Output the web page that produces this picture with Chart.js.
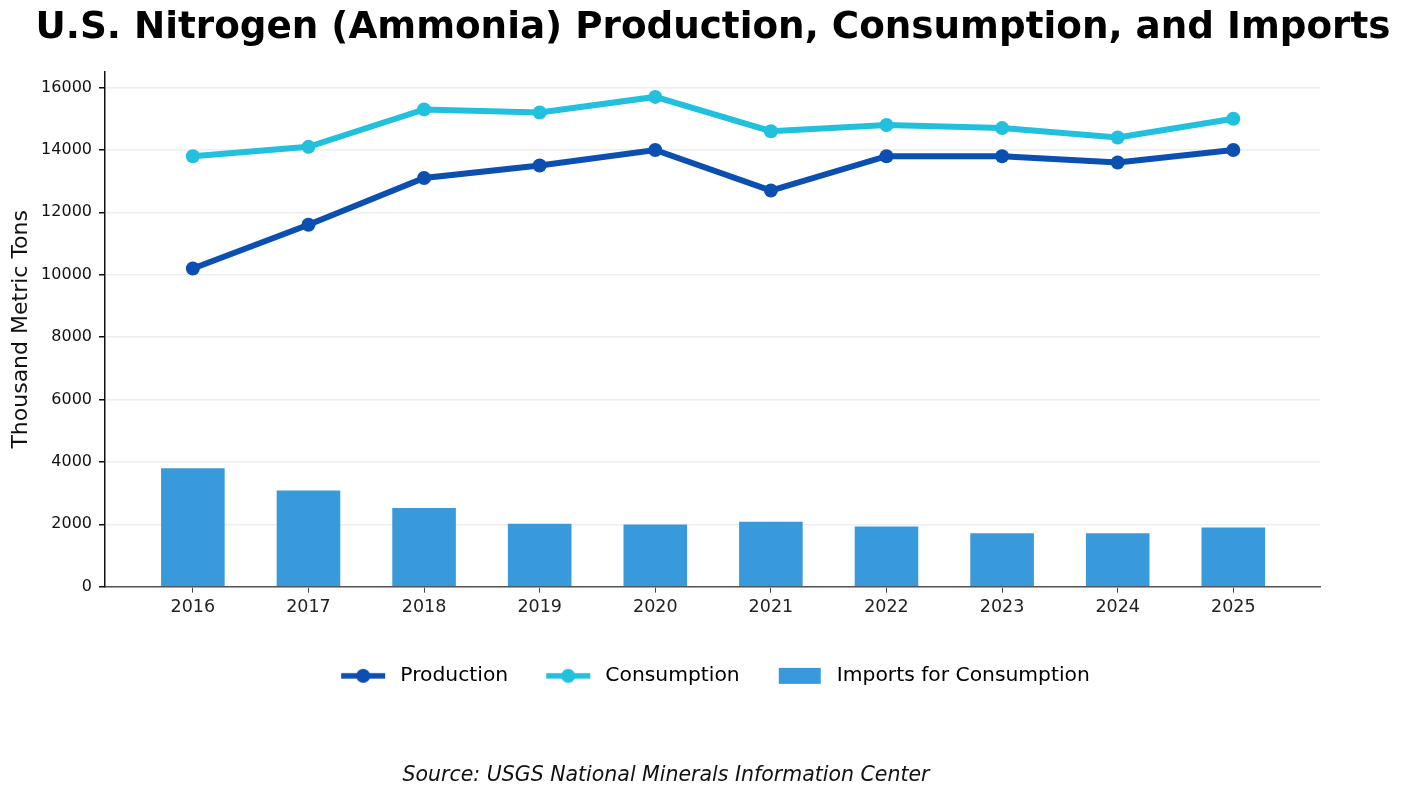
<!DOCTYPE html>
<html>
<head>
<meta charset="utf-8">
<script src="https://cdn.jsdelivr.net/npm/chart.js@4.4.1/dist/chart.umd.min.js"></script>
<style>
  html, body { margin: 0; background: #fff; }
</style>
</head>
<body>
<canvas id="chart" width="1408" height="800"></canvas>
<script>
'use strict';
// values (thousand metric tons)
const YEARS = [2016, 2017, 2018, 2019, 2020, 2021, 2022, 2023, 2024, 2025];
const PRODUCTION = [10200, 11600, 13100, 13500, 14000, 12700, 13800, 13800, 13600, 14000];
const CONSUMPTION = [13800, 14100, 15300, 15200, 15700, 14600, 14800, 14700, 14400, 15000];
const IMPORTS = [3800, 3080, 2520, 2020, 1990, 2080, 1930, 1710, 1710, 1900];
const Y_TICKS = [0, 2000, 4000, 6000, 8000, 10000, 12000, 14000, 16000];
const SOURCE = 'Source: USGS National Minerals Information Center';

const COLORS = { production: '#0b4fb1', consumption: '#21c1de', imports: '#3899db' };
const FONT = "'DejaVu Sans', sans-serif";

const pts = (arr) => arr.map((v, i) => ({ x: YEARS[i], y: v }));

// small canvases used as legend glyphs (line + dot, or a plain box)
function lineGlyph(color) {
  const c = document.createElement('canvas'); c.width = 54; c.height = 18;
  const g = c.getContext('2d');
  g.strokeStyle = color; g.lineWidth = 5.5;
  g.beginPath(); g.moveTo(5, 9); g.lineTo(49, 9); g.stroke();
  g.fillStyle = color; g.beginPath(); g.arc(27, 9, 7, 0, Math.PI * 2); g.fill();
  return c;
}
function boxGlyph(color) {
  const c = document.createElement('canvas'); c.width = 54; c.height = 18;
  const g = c.getContext('2d');
  g.fillStyle = color; g.fillRect(6, 1, 42, 16);
  return c;
}
const GLYPHS = [lineGlyph(COLORS.production), lineGlyph(COLORS.consumption), boxGlyph(COLORS.imports)];

// source line under the legend, left of centre as in the original
const sourceNote = {
  id: 'sourceNote',
  afterDraw(chart) {
    const g = chart.ctx;
    g.save();
    g.font = `italic 20.5px ${FONT}`; g.fillStyle = '#111';
    g.textAlign = 'center'; g.textBaseline = 'middle';
    g.fillText(SOURCE, 666, 776);
    g.restore();
  },
};

new Chart(document.getElementById('chart').getContext('2d'), {
  data: {
    datasets: [
      { type: 'line', label: 'Production', data: pts(PRODUCTION), order: 0,
        borderColor: COLORS.production, backgroundColor: COLORS.production,
        borderWidth: 6, pointRadius: 7, pointHoverRadius: 7, pointBorderWidth: 0 },
      { type: 'line', label: 'Consumption', data: pts(CONSUMPTION), order: 1,
        borderColor: COLORS.consumption, backgroundColor: COLORS.consumption,
        borderWidth: 6, pointRadius: 7, pointHoverRadius: 7, pointBorderWidth: 0 },
      { type: 'bar', label: 'Imports for Consumption', data: pts(IMPORTS), order: 2,
        backgroundColor: COLORS.imports, borderWidth: 0,
        categoryPercentage: 1, barPercentage: 0.55 },
    ],
  },
  plugins: [sourceNote],
  options: {
    responsive: false, animation: false,
    layout: { padding: { left: 18, right: 0, top: 0, bottom: 104 } },
    scales: {
      x: {
        type: 'linear', min: 2015.24, max: 2025.75, offset: false,
        afterBuildTicks: (s) => { s.ticks = YEARS.map((v) => ({ value: v })); },
        afterFit: (s) => { s.height = 46; },
        ticks: { callback: (v) => String(v), color: '#222', padding: 4,
          font: { family: FONT, size: 17.5 } },
        grid: { offset: false, drawOnChartArea: false, drawTicks: true, tickLength: 6, tickColor: '#444' },
        border: { color: '#555', width: 1.5 },
      },
      y: {
        min: 0, max: 16500,
        afterBuildTicks: (s) => { s.ticks = Y_TICKS.map((v) => ({ value: v })); },
        afterFit: (s) => { s.width = 87; },
        ticks: { callback: (v) => String(v), color: '#111', padding: 7,
          font: { family: FONT, size: 16 } },
        grid: { color: '#eeeeee', lineWidth: 1.5, tickColor: '#111', tickLength: 6 },
        border: { color: '#111', width: 1.5 },
        title: { display: true, text: 'Thousand Metric Tons', color: '#111',
          font: { family: FONT, size: 22 }, padding: { top: -10, bottom: 0 } },
      },
      // empty right-hand box keeps the plot clear of the right edge
      y2: {
        position: 'right', display: true,
        afterFit: (s) => { s.width = 88; },
        ticks: { display: false }, grid: { display: false }, border: { display: false },
      },
    },
    plugins: {
      tooltip: { enabled: false },
      title: { display: true, text: 'U.S. Nitrogen (Ammonia) Production, Consumption, and Imports',
        color: '#000', font: { family: FONT, size: 37.3, weight: 'bold' },
        padding: { top: 6, bottom: 21.2 } },
      legend: {
        position: 'bottom',
        labels: {
          usePointStyle: true, pointStyleWidth: 54, boxHeight: 18,
          color: '#222', font: { family: FONT, size: 20.3 }, padding: 33,
          generateLabels: (chart) => chart.data.datasets.map((d, i) => ({
            text: d.label, pointStyle: GLYPHS[i], fillStyle: 'transparent',
            strokeStyle: 'transparent', lineWidth: 0, hidden: false, datasetIndex: i,
          })),
        },
      },
    },
  },
});
</script>
</body>
</html>
